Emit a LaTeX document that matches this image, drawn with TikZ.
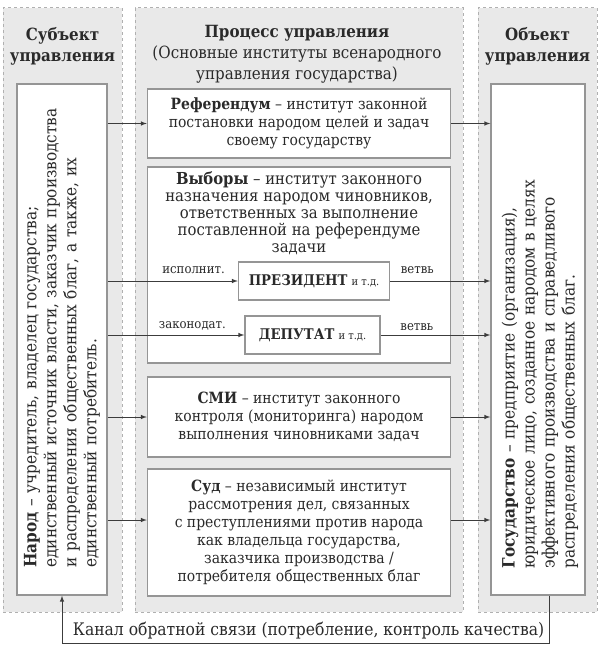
\documentclass[tikz,border=0pt]{standalone}
\usepackage{fontspec}
\setmainfont{DejaVu Serif Condensed}
\usetikzlibrary{positioning}
\definecolor{colfill}{HTML}{E9E9E9}
\definecolor{colline}{HTML}{B0B0B0}
\definecolor{boxline}{HTML}{959595}
\definecolor{conline}{HTML}{3C3C3C}
\definecolor{ink}{HTML}{2A2A2A}

\begin{document}
\begin{tikzpicture}[x=1pt,y=-1pt,>=latex,text=ink,
    column/.style={draw=colline,dashed,fill=colfill,line width=1pt,inner sep=0pt},
    box/.style={draw=boxline,fill=white,line width=1.5pt,inner sep=0pt},
    head/.style={font=\fontsize{16.8}{21}\selectfont\bfseries,align=center,inner sep=0pt},
    txt/.style={font=\fontsize{15.5}{18}\selectfont,align=center,inner sep=0pt},
    rot/.style={font=\fontsize{17}{20}\selectfont,align=left,rotate=90,inner sep=0pt},
    lab/.style={font=\fontsize{13}{14}\selectfont,inner sep=1pt},
    conn/.style={draw=conline,line width=1pt}]
\useasboundingbox (0,0) rectangle (602,647);

% columns
\node (subj) at (62.5,310) [column,minimum width=119pt,minimum height=604pt] {};
\node (proc) at (299,310) [column,minimum width=328pt,minimum height=604pt] {};
\node (obj) at (537.5,310) [column,minimum width=119pt,minimum height=604pt] {};

\node (hsubj) at (62.5,46) [head] {Субъект\\управления};
\node (hproc) at (297,54) [head] {Процесс управления\\{\mdseries(Основные институты всенародного}\\{\mdseries управления государства)}};
\node (hobj) at (537.5,46) [head] {Объект\\управления};

% inner boxes
\node (narod) at (62,339.5) [box,minimum width=90pt,minimum height=511pt] {};
\node (gos) at (538,339.5) [box,minimum width=94pt,minimum height=511pt] {};

\node (narodtxt) at ([yshift=28pt]narod.south) [rot,anchor=west,text width=480pt]
  {\textbf{Народ} – учредитель, владелец государства;\\
   единственный источник власти, заказчик производства\\
   и распределения общественных благ, а также, их\\
   единственный потребитель.};
\node (gostxt) at ([xshift=2pt,yshift=27pt]gos.south) [rot,anchor=west,text width=480pt]
  {\textbf{Государство} – предприятие (организация),\\
   юридическое лицо, созданное народом в целях\\
   эффективного производства и справедливого\\
   распределения общественных благ.};

% institutes
\node (ref) at (299,123.5) [box,txt,minimum width=303pt,minimum height=69pt]
  {\textbf{Референдум} – институт законной\\постановки народом целей и задач\\своему государству};
\node (vyb) at (299,265) [box,minimum width=303pt,minimum height=196pt] {};
\node (vybtxt) at ([yshift=-5pt]vyb.north) [txt,anchor=north,font=\fontsize{16.5}{17}\selectfont]
  {\textbf{Выборы} – институт законного\\назначения народом чиновников,\\ответственных за выполнение\\поставленной на референдуме\\задачи};
\node (pres) at (314,281) [box,minimum width=151pt,minimum height=38pt,font=\fontsize{14.7}{17}\selectfont]
  {\textbf{ПРЕЗИДЕНТ} {\fontsize{11}{13}\selectfont и т.д.}};
\node (dep) at (312.5,335) [box,minimum width=135pt,minimum height=38pt,font=\fontsize{14.7}{17}\selectfont]
  {\textbf{ДЕПУТАТ} {\fontsize{11}{13}\selectfont и т.д.}};
\node (smi) at (299,417) [box,txt,minimum width=303pt,minimum height=80pt]
  {\textbf{СМИ} – институт законного\\контроля (мониторинга) народом\\выполнения чиновниками задач};
\node (sud) at (299,532.5) [box,txt,minimum width=303pt,minimum height=127pt]
  {\textbf{Суд} – независимый институт\\рассмотрения дел, связанных\\с преступлениями против народа\\как владельца государства,\\заказчика производства /\\потребителя общественных благ};

\coordinate (sudin) at ([yshift=12.5pt]sud.west);
\coordinate (sudout) at ([yshift=12.5pt]sud.east);
\coordinate (fbr) at ([xshift=11pt]gos.south);

% connectors
\draw[conn,->] (narod.east |- ref.west) -- (ref.west);
\draw[conn,->] (ref.east) -- (ref.east -| gos.west);
\draw[conn,->] (narod.east |- pres.west) -- (pres.west) node[lab,pos=0.66,above=6pt] {исполнит.};
\draw[conn,->] (pres.east) -- (pres.east -| gos.west) node[lab,pos=0.27,above=6pt] {ветвь};
\draw[conn,->] (narod.east |- dep.west) -- (dep.west) node[lab,pos=0.62,above=3pt] {законодат.};
\draw[conn,->] (dep.east) -- (dep.east -| gos.west) node[lab,pos=0.33,above=3pt] {ветвь};
\draw[conn,->] (narod.east |- smi.west) -- (smi.west);
\draw[conn,->] (smi.east) -- (smi.east -| gos.west);
\draw[conn,->] (narod.east |- sudin) -- (sudin);
\draw[conn,->] (sudout) -- (sudout -| gos.west);

% feedback channel
\node (fb) at (308.5,631) [txt,font=\fontsize{17.3}{20}\selectfont] {Канал обратной связи (потребление, контроль качества)};
\draw[conn,->] (fbr) -- ++(0,48) -| (narod.south);
\end{tikzpicture}
\end{document}
